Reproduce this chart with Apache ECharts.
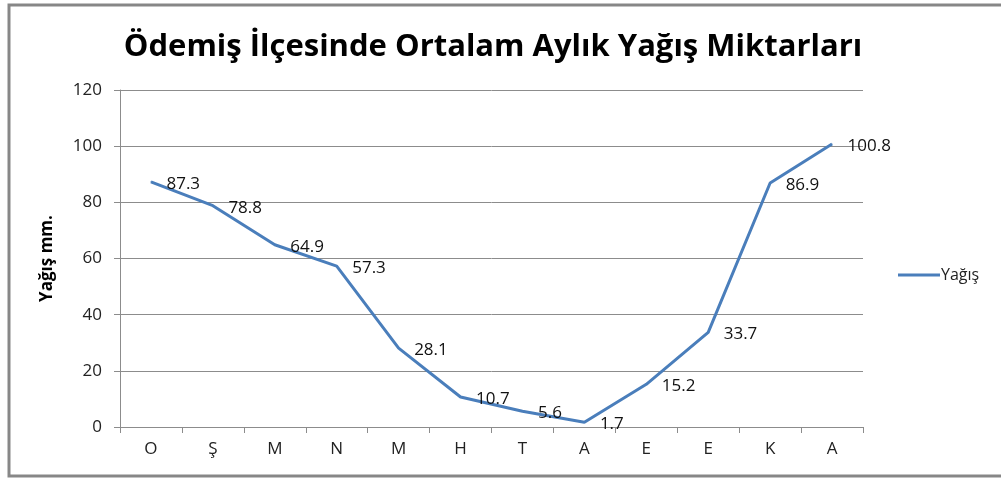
<!DOCTYPE html>
<html>
<head>
<meta charset="utf-8">
<script src="https://cdn.jsdelivr.net/npm/echarts@6/dist/echarts.min.js"></script>
<style>
  html, body { margin: 0; padding: 0; background: #fff; }
  #chart { width: 1001px; height: 479px; }
</style>
</head>
<body>
<div id="chart"></div>
<script>
// aylar (baş harfler) ve yağış değerleri
const months = ['O', 'Ş', 'M', 'N', 'M', 'H', 'T', 'A', 'E', 'E', 'K', 'A'];
const rainfall = [87.3, 78.8, 64.9, 57.3, 28.1, 10.7, 5.6, 1.7, 15.2, 33.7, 86.9, 100.8];
const yTicks = [0, 20, 40, 60, 80, 100, 120];

const font = '"Open Sans", "Noto Sans", sans-serif';
const chart = echarts.init(document.getElementById('chart'));

chart.setOption({
    animation: false,
    title: {
        text: 'Ödemiş İlçesinde Ortalam Aylık Yağış Miktarları',
        left: 488,
        textAlign: 'center',
        top: 27,
        textStyle: { fontFamily: font, fontSize: 31, fontWeight: 'bold', color: '#000' }
    },
    legend: {
        data: ['Yağış'],
        left: 893,
        top: 262,
        itemWidth: 42,
        itemHeight: 3,
        itemGap: 0,
        icon: 'rect',
        textStyle: { fontFamily: font, fontSize: 16, color: '#222', padding: [0, 0, 0, -4] }
    },
    graphic: [{
        type: 'rect',
        silent: true,
        shape: { x: 9, y: 5, width: 1010, height: 471 },
        style: { fill: 'none', stroke: '#878787', lineWidth: 3 }
    }],
    grid: { left: 120, right: 138, top: 90, bottom: 52 },
    xAxis: {
        type: 'category',
        data: months,
        boundaryGap: true,
        axisLine: { lineStyle: { color: '#8c8c8c', width: 1 } },
        axisTick: { show: true, length: 6, lineStyle: { color: '#8c8c8c' } },
        axisLabel: { fontFamily: font, fontSize: 17, color: '#222', margin: 14 }
    },
    yAxis: {
        type: 'value',
        min: 0,
        max: 120,
        interval: 20,
        name: 'Yağış mm.',
        nameLocation: 'middle',
        nameGap: 64,
        nameTextStyle: { fontFamily: font, fontSize: 17, fontWeight: 'bold', color: '#000' },
        axisLine: { show: true, lineStyle: { color: '#8c8c8c' } },
        axisTick: { show: true, length: 6, lineStyle: { color: '#8c8c8c' } },
        axisLabel: {
            fontFamily: font, fontSize: 17, color: '#222', margin: 18,
            formatter: v => (yTicks.includes(v) ? String(v) : '')
        },
        splitLine: { lineStyle: { color: '#8c8c8c', width: 1 } }
    },
    series: [{
        name: 'Yağış',
        type: 'line',
        data: rainfall,
        symbol: 'circle',
        symbolSize: 1,
        showSymbol: true,
        lineStyle: { color: '#4a7ebb', width: 3 },
        itemStyle: { color: '#4a7ebb' },
        label: {
            show: true,
            position: 'right',
            distance: 15,
            offset: [0, 2],
            fontFamily: font,
            fontSize: 17,
            color: '#111'
        }
    }]
});
</script>
</body>
</html>
